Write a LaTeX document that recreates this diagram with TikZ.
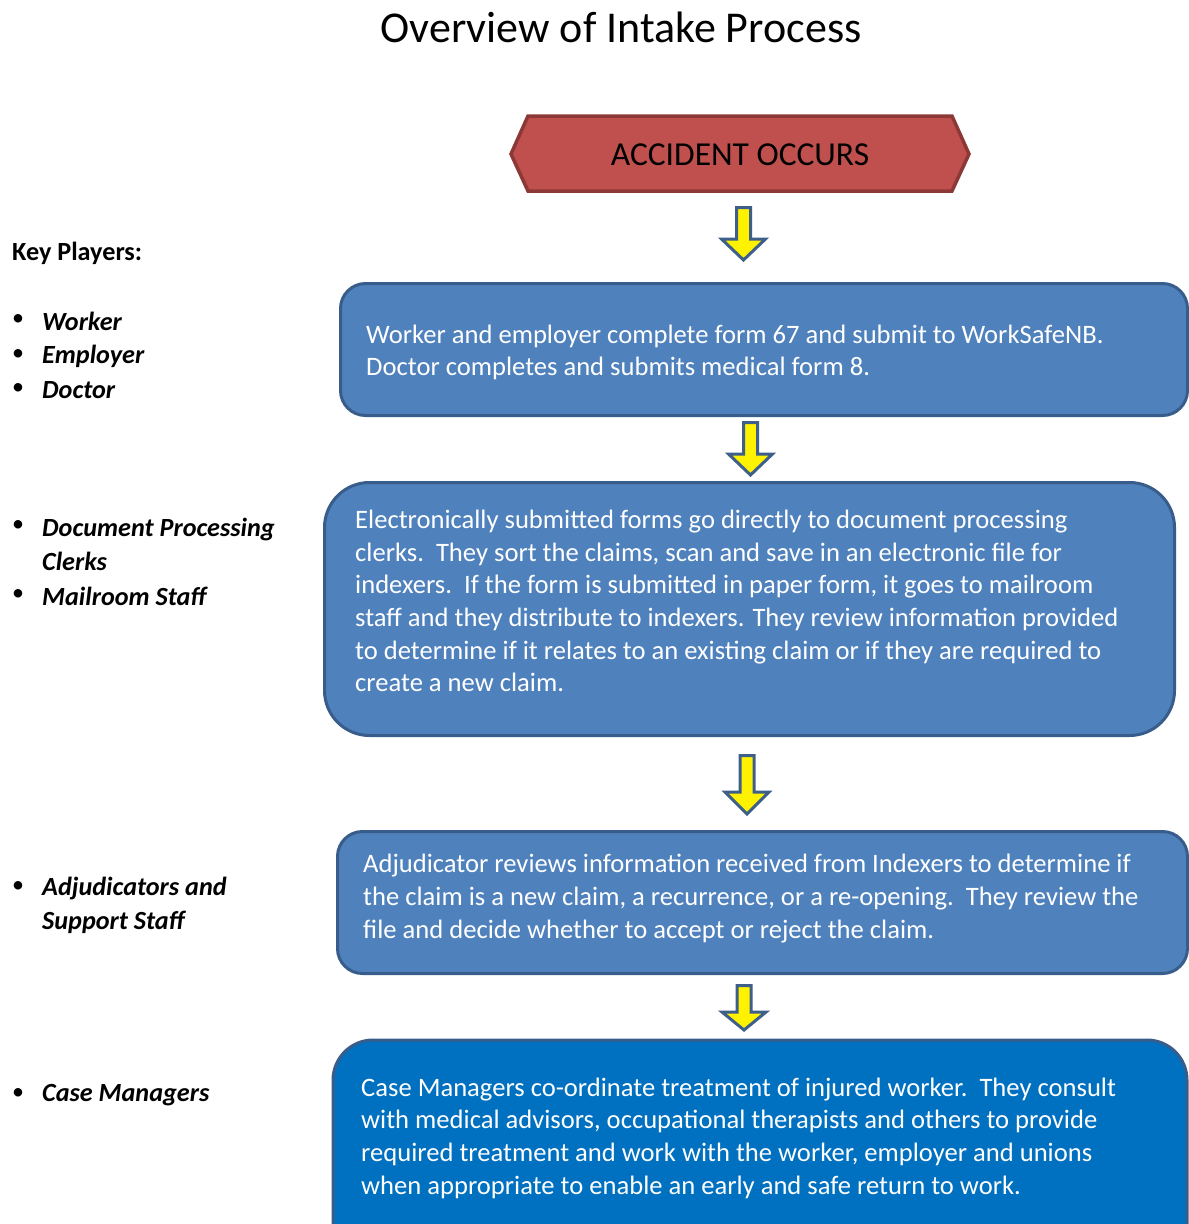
\documentclass[tikz,border=0pt]{standalone}
\usepackage{fontspec}
\setmainfont{Carlito}
\definecolor{boxfill}{HTML}{4F81BD}
\definecolor{boxline}{HTML}{385D8A}
\definecolor{casefill}{HTML}{0070C0}
\definecolor{redfill}{HTML}{C0504D}
\definecolor{redline}{HTML}{8C3836}
\definecolor{arrline}{HTML}{3E5F8A}
\tikzset{
  bluebox/.style={draw=boxline, fill=boxfill, line width=3pt, inner sep=0pt},
  casebox/.style={draw=boxline, fill=casefill, line width=3pt, inner sep=0pt},
  bodytext/.style={text=white, align=left, inner sep=0pt, anchor=west, font=\fontsize{26.6}{32.6}\selectfont},
  keytext/.style={inner sep=0pt, anchor=west, align=left, font=\fontsize{26.2}{34.5}\selectfont\bfseries\itshape},
  bulletmark/.style={inner sep=0pt, font=\fontsize{24}{26}\selectfont},
  pics/downarrow/.style args={#1/#2}{code={
    \draw[draw=arrline, fill=yellow, line width=3pt, line join=miter]
      (-7,1.5) -- (-7,#1-#2) -- (-22,#1-#2) -- (0,#1-2) -- (22,#1-#2) -- (7,#1-#2) -- (7,1.5) -- cycle;
  }}
}
\begin{document}
\begin{tikzpicture}[x=1pt,y=-1pt]
\useasboundingbox (0,0) rectangle (1189,1224);
\clip (0,0) rectangle (1189,1224);

% title
\node[inner sep=0pt, font=\fontsize{44}{52}\selectfont] (title) at (621,27) {Overview of Intake Process};

% accident hexagon
\draw[fill=redfill, draw=redline, line width=3.5pt, line join=miter]
  (511,154) -- (528,116) -- (952,116) -- (969,154) -- (952,191) -- (528,191) -- cycle;
\node[inner sep=0pt, font=\fontsize{33.5}{40}\selectfont] (acc) at (740,155) {ACCIDENT OCCURS};

% boxes
\node[bluebox, rounded corners=25pt, minimum width=847pt, minimum height=132pt] (b1) at (764,349.5) {};
\node[bluebox, rounded corners=45pt, minimum width=850pt, minimum height=253pt] (b2) at (749.5,609) {};
\node[bluebox, rounded corners=25pt, minimum width=850pt, minimum height=142pt] (b3) at (762.5,902.5) {};
\node[casebox, rounded corners=40pt, minimum width=854pt, minimum height=240pt] (b4) at (760,1160) {};

% arrows
\pic at (743.5,206) {downarrow=56/23};
\pic at (750.5,421) {downarrow=56/23};
\pic at (747,754) {downarrow=62/24};
\pic at (744,984) {downarrow=48/20};

% box texts
\node[bodytext] (t1) at (366,352.5) {Worker and employer complete form 67 and submit to WorkSafeNB.\\Doctor completes and submits medical form 8.};
\node[bodytext] (t2) at (355,601) {Electronically submitted forms go directly to document processing\\clerks.\ \ They sort the claims, scan and save in an electronic file for\\indexers.\ \ If the form is submitted in paper form, it goes to mailroom\\staff and they distribute to indexers. They review information provided\\to determine if it relates to an existing claim or if they are required to\\create a new claim.};
\node[bodytext] (t3) at (363,898.5) {Adjudicator reviews information received from Indexers to determine if\\the claim is a new claim, a recurrence, or a re-opening.\ \ They review the\\file and decide whether to accept or reject the claim.};
\node[bodytext] (t4) at (361,1138) {Case Managers co-ordinate treatment of injured worker.\ \ They consult\\with medical advisors, occupational therapists and others to provide\\required treatment and work with the worker, employer and unions\\when appropriate to enable an early and safe return to work.};

% key players
\node[inner sep=0pt, anchor=west, font=\fontsize{26.2}{30}\selectfont\bfseries] (kp) at (12,253.5) {Key Players:};
\node[bulletmark] (bu1) at (18,320) {\textbullet};
\node[bulletmark] (bu2) at (18,355) {\textbullet};
\node[bulletmark] (bu3) at (18,389) {\textbullet};
\node[bulletmark] (bu4) at (18,526) {\textbullet};
\node[bulletmark] (bu5) at (18,595) {\textbullet};
\node[bulletmark] (bu6) at (18,887) {\textbullet};
\node[bulletmark] (bu7) at (18,1094) {\textbullet};
\node[keytext] (k1) at (42,321) {Worker};
\node[keytext] (k2) at (42,356.5) {Employer};
\node[keytext] (k3) at (42,390.5) {Doctor};
\node[keytext] (k4) at (42,544.5) {Document Processing\\Clerks};
\node[keytext] (k5) at (42,596.5) {Mailroom Staff};
\node[keytext] (k6) at (42,905.5) {Adjudicators and\\Support Staff};
\node[keytext] (k7) at (42,1095.5) {Case Managers};
\end{tikzpicture}
\end{document}
